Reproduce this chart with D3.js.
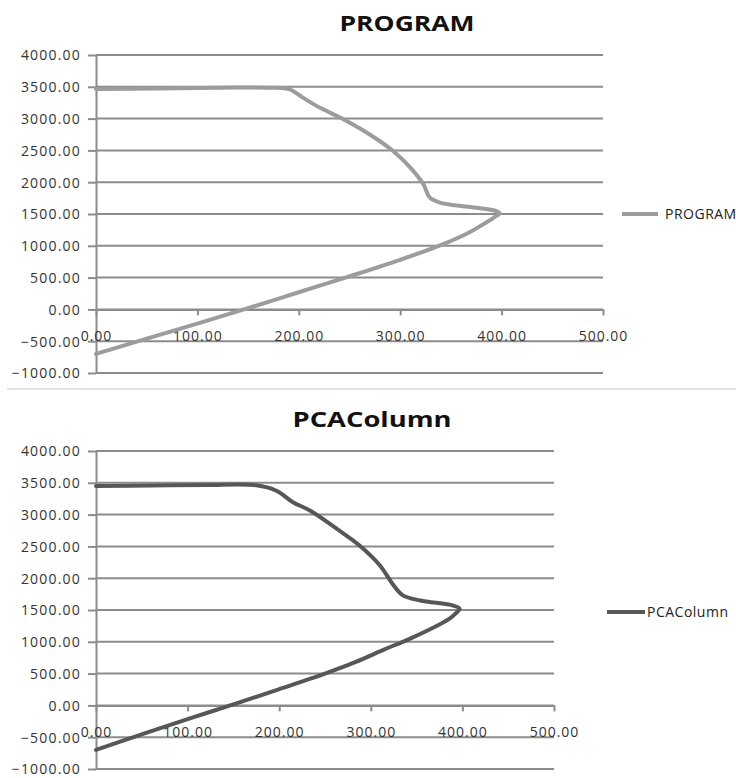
<!DOCTYPE html>
<html><head><meta charset="utf-8">
<script src="https://cdn.jsdelivr.net/npm/d3@7"></script>
<style>
html,body{margin:0;padding:0;background:#fff;}
svg{display:block;font-family:"Open Sans",sans-serif;}
</style></head>
<body>
<svg id="c" width="736" height="778"></svg>
<script>
// ---- data ----
const xTickValues = [0, 100, 200, 300, 400, 500];
const yTickValues = [-1000, -500, 0, 500, 1000, 1500, 2000, 2500, 3000, 3500, 4000];

const programX = [0, 60, 120, 172, 191, 204, 221, 244, 270, 293, 310, 323, 329, 339, 369, 395, 398, 392, 382, 368, 340, 300, 250, 200, 150, 100, 50, 0];
const programY = [3465, 3475, 3485, 3486, 3459, 3330, 3170, 2990, 2750, 2490, 2230, 1965, 1760, 1680, 1610, 1545, 1510, 1440, 1340, 1210, 1010, 780, 520, 270, 20, -225, -460, -700];

const pcaX = [0, 60, 120, 175, 197, 215, 234, 263, 288, 310, 325, 335, 354, 390, 397, 393, 386, 368, 343, 315, 283, 250, 200, 150, 100, 50, 0];
const pcaY = [3450, 3458, 3465, 3462, 3375, 3195, 3060, 2775, 2510, 2200, 1885, 1730, 1650, 1570, 1520, 1450, 1365, 1220, 1050, 880, 680, 500, 255, 15, -215, -455, -700];

const charts = [
  {title: "PROGRAM", name: "PROGRAM", xs: programX, ys: programY, color: "#9c9c9c",
   left: 96, right: 603, top: 55, bottom: 373, titleX: 407, titleY: 31, titleLen: 135,
   legX: 622, legLen: 36, legGap: 7, legY: 214},
  {title: "PCAColumn", name: "PCAColumn", xs: pcaX, ys: pcaY, color: "#575757",
   left: 96, right: 554, top: 451, bottom: 769, titleX: 372, titleY: 427, titleLen: 159,
   legX: 607, legLen: 38, legGap: 2, legY: 612}
];

const svg = d3.select("#c");
const gridColor = "#8c8c8c";
const fmt = d3.format(".2f");

// separator between the two charts
svg.append("line").attr("x1", 7).attr("x2", 736).attr("y1", 389).attr("y2", 389)
  .attr("stroke", "#e2e2e2").attr("stroke-width", 2);

charts.forEach(c => {
  const x = d3.scaleLinear().domain([0, 500]).range([c.left, c.right]);
  const y = d3.scaleLinear().domain([-1000, 4000]).range([c.bottom, c.top]);
  const g = svg.append("g");

  // title
  g.append("text").attr("x", c.titleX).attr("y", c.titleY).attr("text-anchor", "middle")
    .attr("font-size", 21).attr("font-weight", "bold").attr("fill", "#111")
    .attr("textLength", c.titleLen).attr("lengthAdjust", "spacingAndGlyphs")
    .text(c.title);

  // horizontal gridlines
  g.append("g").selectAll("line").data(yTickValues).join("line")
    .attr("x1", c.left).attr("x2", c.right)
    .attr("y1", d => y(d)).attr("y2", d => y(d))
    .attr("stroke", gridColor).attr("stroke-width", 2);

  // y axis
  const ya = g.append("g").attr("transform", `translate(${c.left},0)`)
    .call(d3.axisLeft(y).tickValues(yTickValues).tickFormat(fmt).tickSize(8).tickSizeOuter(0).tickPadding(7));
  ya.select(".domain").attr("stroke", gridColor).attr("stroke-width", 2);
  ya.selectAll(".tick line").attr("stroke", gridColor).attr("stroke-width", 2);
  ya.selectAll(".tick text").attr("font-size", 14).attr("fill", "#333")
    .attr("font-family", "Open Sans").attr("letter-spacing", 1.2).attr("dy", "0.35em");

  // x axis at y = 0
  const xa = g.append("g").attr("transform", `translate(0,${y(0)})`)
    .call(d3.axisBottom(x).tickValues(xTickValues).tickFormat(fmt).tickSize(6).tickSizeOuter(0).tickPadding(16));
  xa.select(".domain").attr("stroke", gridColor).attr("stroke-width", 2);
  xa.selectAll(".tick line").attr("stroke", gridColor).attr("stroke-width", 2);
  xa.selectAll(".tick text").attr("font-size", 14).attr("fill", "#333")
    .attr("font-family", "Open Sans").attr("letter-spacing", 1.0);

  // series line
  const pts = c.xs.map((v, i) => [v, c.ys[i]]);
  g.append("path").datum(pts)
    .attr("d", d3.line().x(d => x(d[0])).y(d => y(d[1])).curve(d3.curveCatmullRom.alpha(0.5)))
    .attr("fill", "none").attr("stroke", c.color).attr("stroke-width", 4)
    .attr("stroke-linejoin", "round").attr("stroke-linecap", "round");

  // legend
  g.append("line").attr("x1", c.legX).attr("x2", c.legX + c.legLen)
    .attr("y1", c.legY).attr("y2", c.legY)
    .attr("stroke", c.color).attr("stroke-width", 4);
  g.append("text").attr("x", c.legX + c.legLen + c.legGap).attr("y", c.legY).attr("dy", "0.35em")
    .attr("font-size", 14).attr("fill", "#222").attr("letter-spacing", 0.5)
    .text(c.name);
});
</script>
</body></html>
